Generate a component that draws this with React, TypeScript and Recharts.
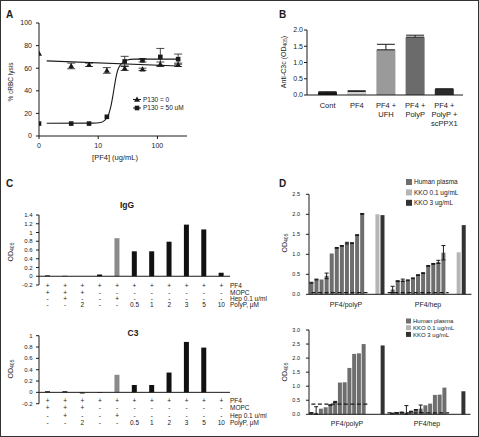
import React from 'react';
import {
  ComposedChart, Bar, Line, Scatter, XAxis, YAxis, ErrorBar, ReferenceLine, Cell,
} from 'recharts';

const FONT = '"Liberation Sans", Arial, Helvetica, sans-serif';
const INK = '#1a1a1a';

// A: % cRBC lysis vs [PF4]
const pf4Dose = [1, 3.5, 7, 14, 28, 56, 112, 224];
const lysisP130Zero = [73, 62, 63, 58, 60, 59, 63.5, 63];
const lysisP130ZeroErr = [0, 2.5, 1.5, 2.5, 2, 1, 2, 1.5];
const lysisP130Fifty = [11, 11, 11, 17, 66, 67, 70, 68];
const lysisP130FiftyErr = [0, 0, 0, 0, 4.5, 1.5, 7.5, 4.5];
const fitZeroDose = [1.35, 224];
const fitZeroLysis = [66.5, 62];
const fitFiftyDose = [1.35, 8, 11, 13, 15, 16.5, 18, 19.5, 21, 23, 26, 30, 40, 224];
const fitFiftyLysis = [11.3, 11.4, 12, 14, 19, 27, 38, 49, 57, 62, 65, 67, 68, 68];

// B: anti-C3c
const bLabels = ['Cont', 'PF4', 'PF4 +\nUFH', 'PF4 +\nPolyP', 'PF4 +\nPolyP +\nscPPX1'];
const bValues = [0.08, 0.11, 1.39, 1.78, 0.18];
const bErrUp = [0.02, 0.02, 0.17, 0.06, 0.01];
const bColors = ['#111111', '#cfcfcf', '#9a9a9a', '#6b6b6b', '#2b2b2b'];

// C: IgG and C3 ELISA
const cIgG = [0.02, 0.01, 0, 0.04, 0.87, 0.57, 0.57, 0.79, 1.18, 1.07, 0.08];
const cC3 = [0.02, 0.02, -0.02, -0.01, 0.31, 0.13, 0.13, 0.35, 0.89, 0.79, 0];
const rowPF4 = ['+', '+', '+', '+', '+', '+', '+', '+', '+', '+', '+'];
const rowMOPC = ['+', '+', '+', '-', '-', '-', '-', '-', '-', '-', '-'];
const rowHep = ['-', '+', '-', '-', '+', '-', '-', '-', '-', '-', '-'];
const rowPolyP = ['-', '-', '2', '-', '-', '0.5', '1', '2', '3', '5', '10'];
const rowNames = ['PF4', 'MOPC', 'Hep 0.1 u/ml', 'PolyP, \u03bcM'];
const igTicks = [-0.2, 0, 0.2, 0.4, 0.6, 0.8, 1, 1.2, 1.4];
const c3Ticks = [-0.2, 0, 0.2, 0.4, 0.6, 0.8, 1];

// D: human plasma vs KKO
const dLegend = ['Human plasma', 'KKO 0.1 ug/mL', 'KKO 3 ug/mL'];
const topPolyP = [0.29, 0.37, 0.37, 0.46, 1.02, 1.16, 1.21, 1.28, 1.28, 1.48, 2.01];
const topPolyPErr = [0.01, 0.01, 0, 0.07, 0, 0.01, 0.01, 0.02, 0.01, 0.01, 0.01];
const topHep = [0.12, 0.33, 0.35, 0.35, 0.4, 0.48, 0.53, 0.71, 0.76, 0.81, 1.04];
const topHepErr = [0.08, 0.01, 0.03, 0.01, 0.01, 0.01, 0.01, 0.01, 0.01, 0.04, 0.18];
const topKko01 = [2.0, 1.05];
const topKko3 = [1.98, 1.73];
const topCutoff = [0.04, 0.04];
const botPolyP = [0.05, 0.05, 0.2, 0.25, 0.33, 0.44, 1.13, 1.14, 1.65, 2.15, 2.17, 2.5];
const botPolyPErr = [0.01, 0.22, 0, 0, 0.01, 0.02, 0, 0, 0, 0, 0, 0];
const botHep = [0.03, 0.05, 0.07, 0.06, 0.1, 0.16, 0.2, 0.32, 0.38, 0.69, 0.7, 0.95];
const botHepErr = [0.01, 0.01, 0.01, 0.25, 0.01, 0.01, 0.13, 0, 0, 0, 0, 0];
const botKko01: (number | null)[] = [null, null];
const botKko3 = [2.45, 0.82];
const botCutoff = [0.36, 0.05];

const PLASMA = '#6e6e6e';
const KKO01 = '#b5b5b5';
const KKO3 = '#333333';
const dColors = [PLASMA, KKO01, KKO3];

const pts = (xs: number[], ys: number[], es?: number[]) =>
  xs.map((x, i) => ({ x, y: ys[i], e: es ? es[i] : 0 }));

const bData = bLabels.map((name, i) => ({ name, v: bValues[i], e: [0, bErrUp[i]] }));
const igData = cIgG.map((v, i) => ({ k: i, v }));
const c3Data = cC3.map((v, i) => ({ k: i, v }));

type Slot = { v: number | null; e?: number[]; fill?: string; dash?: number | null };
const group = (vals: number[], errs: number[], cut: number): Slot[] =>
  vals.map((v, i) => ({ v, e: errs[i] ? [Math.min(errs[i], v), errs[i]] : undefined, fill: PLASMA, dash: cut }));
const gap = (dash: number | null = null): Slot => ({ v: null, dash });
const kko = (v: number | null, fill: string): Slot => ({ v, fill, dash: null });

const topSlots = [
  ...group(topPolyP, topPolyPErr, topCutoff[0]), gap(topCutoff[0]), gap(),
  kko(topKko01[0], KKO01), kko(topKko3[0], KKO3), gap(topCutoff[1]),
  ...group(topHep, topHepErr, topCutoff[1]), gap(topCutoff[1]), gap(),
  kko(topKko01[1], KKO01), kko(topKko3[1], KKO3), gap(),
].map((s, k) => ({ k, ...s }));

const botSlots = [
  ...group(botPolyP, botPolyPErr, botCutoff[0]), gap(botCutoff[0]), gap(),
  kko(botKko01[0], KKO01), kko(botKko3[0], KKO3), gap(botCutoff[1]),
  ...group(botHep, botHepErr, botCutoff[1]), gap(botCutoff[1]), gap(),
  kko(botKko01[1], KKO01), kko(botKko3[1], KKO3), gap(),
].map((s, k) => ({ k, ...s }));

const oneDec = (v: number) => v.toFixed(1);
const shortNum = (v: number) => String(Math.round(v * 10) / 10);

const Tri = ({ cx, cy }: any) => (
  <polygon points={`${cx},${cy - 3} ${cx - 3},${cy + 2.2} ${cx + 3},${cy + 2.2}`} fill={INK} />
);
const Sq = ({ cx, cy }: any) => <rect x={cx - 2.3} y={cy - 2.3} width={4.6} height={4.6} fill={INK} />;

const BTick = ({ x, y, payload }: any) => {
  const lines = String(payload.value).split('\n');
  return (
    <text x={x} y={y} textAnchor="middle" fontSize={7.5} fill={INK}>
      {lines.map((l, i) => (
        <tspan key={i} x={x} dy={i === 0 ? 12.5 : 9}>{l}</tspan>
      ))}
    </text>
  );
};

const tableRows = [rowPF4, rowMOPC, rowHep, rowPolyP];
const tableTick = (first: number, step: number) => ({ x, y, payload }: any) => {
  const i = Number(payload.value);
  return (
    <g>
      {tableRows.map((row, r) => (
        <text key={r} x={x} y={y + first + r * step} textAnchor="middle" fontSize={6.5} fill={INK}>{row[i]}</text>
      ))}
      {i === rowPF4.length - 1 && rowNames.map((n, r) => (
        <text key={'n' + r} x={x + 8.7} y={y + first + r * step} fontSize={6.5} fill={INK}>{n}</text>
      ))}
    </g>
  );
};

const VLabel = ({ x, y, size, children }: any) => (
  <text transform={`translate(${x},${y}) rotate(-90)`} textAnchor="middle" fontSize={size} fill={INK}>{children}</text>
);

const at = (left: number, top: number, child: React.ReactNode) => (
  <div style={{ position: 'absolute', left, top }}>{child}</div>
);

const axisProps = { stroke: INK, tickLine: { stroke: INK }, interval: 0 as const };

const CPanel = ({ data, ticks, mt, h, first, step }: any) => (
  <ComposedChart width={285} height={h} data={data} margin={{ top: mt, right: 55, bottom: 0, left: 0 }}>
    <XAxis dataKey="k" type="category" interval={0} height={25} axisLine={false} tickLine={false}
      tickSize={0} tickMargin={0} tick={tableTick(first, step)} />
    <YAxis width={39} domain={[ticks[0], ticks[ticks.length - 1]]} ticks={ticks} tickFormatter={shortNum}
      tickSize={3} tickMargin={3.5} tick={{ fontSize: 6, fill: INK }} {...axisProps} />
    <ReferenceLine y={0} stroke={INK} strokeWidth={1} />
    <Bar dataKey="v" barSize={5} isAnimationActive={false}>
      {data.map((_: any, i: number) => <Cell key={i} fill={i === 4 ? '#8a8a8a' : '#111111'} />)}
    </Bar>
  </ComposedChart>
);

const DPanel = ({ data, h, mt, width, max, ticks }: any) => (
  <ComposedChart width={width} height={h} data={data} barCategoryGap={0.4} margin={{ top: mt, right: 2.5, bottom: 0, left: 0 }}>
    <XAxis dataKey="k" type="category" height={4} tick={false} tickLine={false} axisLine={{ stroke: INK }} />
    <YAxis width={59} domain={[0, max]} ticks={ticks} tickFormatter={oneDec}
      tickSize={3} tickMargin={6} tick={{ fontSize: 5.5, fill: INK }} {...axisProps} />
    <Bar dataKey="v" isAnimationActive={false}>
      {data.map((s: any, i: number) => <Cell key={i} fill={s.fill || 'none'} />)}
      <ErrorBar dataKey="e" width={2} stroke={INK} strokeWidth={1} />
    </Bar>
    <Line dataKey="dash" stroke={INK} strokeWidth={1.3} strokeDasharray="4 2.5" dot={false}
      activeDot={false} isAnimationActive={false} />
  </ComposedChart>
);

export default function App() {
  return (
    <div style={{ position: 'relative', width: 479, height: 437, background: '#fff', fontFamily: FONT, overflow: 'hidden' }}>
      <style>{'body{margin:0}'}</style>

      {at(0, 0,
        <ComposedChart width={200} height={150} margin={{ top: 23, right: 13, bottom: 0, left: 0 }}>
          <XAxis type="number" dataKey="x" scale="log" domain={[1, 316]} ticks={[1, 10, 100]} allowDataOverflow
            tickFormatter={(v: number) => (v === 1 ? '0' : String(v))} height={14}
            tickSize={3} tickMargin={4} tick={{ fontSize: 7, fill: INK }} {...axisProps} />
          <YAxis type="number" dataKey="y" width={39} domain={[0, 100]} ticks={[0, 20, 40, 60, 80, 100]}
            tickSize={3} tickMargin={4} tick={{ fontSize: 7, fill: INK }} {...axisProps} />
          <Line data={pts(fitZeroDose, fitZeroLysis)} dataKey="y" type="linear" stroke={INK} strokeWidth={1.1}
            dot={false} activeDot={false} isAnimationActive={false} />
          <Line data={pts(fitFiftyDose, fitFiftyLysis)} dataKey="y" type="monotone" stroke={INK} strokeWidth={1.1}
            dot={false} activeDot={false} isAnimationActive={false} />
          <Scatter data={pts(pf4Dose, lysisP130Zero, lysisP130ZeroErr)} shape={<Tri />} isAnimationActive={false}>
            <ErrorBar dataKey="e" direction="y" width={4} stroke={INK} strokeWidth={0.8} />
          </Scatter>
          <Scatter data={pts(pf4Dose, lysisP130Fifty, lysisP130FiftyErr)} shape={<Sq />} isAnimationActive={false}>
            <ErrorBar dataKey="e" direction="y" width={4} stroke={INK} strokeWidth={0.8} />
          </Scatter>
        </ComposedChart>
      )}

      {at(250, 0,
        <ComposedChart width={215} height={135} data={bData} margin={{ top: 30, right: 2, bottom: 0, left: 0 }}>
          <XAxis dataKey="name" type="category" interval={0} height={40} padding={{ left: 6, right: 4 }}
            tickLine={false} tickSize={0} tickMargin={0} tick={<BTick />} axisLine={{ stroke: INK }} />
          <YAxis width={57} domain={[0, 2]} ticks={[0, 0.5, 1, 1.5, 2]} tickFormatter={oneDec}
            tickSize={3} tickMargin={1} tick={{ fontSize: 7, fill: INK }} {...axisProps} />
          <Bar dataKey="v" barSize={19} isAnimationActive={false}>
            {bData.map((_, i) => <Cell key={i} fill={bColors[i]} />)}
            <ErrorBar dataKey="e" width={9} stroke={INK} strokeWidth={1} />
          </Bar>
        </ComposedChart>
      )}

      {at(0, 200, <CPanel data={igData} ticks={igTicks} h={110} mt={15} first={3.3} step={6.33} />)}
      {at(0, 320, <CPanel data={c3Data} ticks={c3Ticks} h={108.7} mt={15.7} first={-0.7} step={7.45} />)}

      {at(250, 185, <DPanel data={topSlots} width={224} h={113.3} mt={9.3} max={2.5}
        ticks={[0, 0.5, 1, 1.5, 2, 2.5]} />)}
      {at(250, 320, <DPanel data={botSlots} width={223} h={98.3} mt={10} max={3}
        ticks={[0, 0.5, 1, 1.5, 2, 2.5, 3]} />)}

      <svg width={479} height={437} style={{ position: 'absolute', left: 0, top: 0, pointerEvents: 'none', fontFamily: FONT }}>
        <g fontWeight="bold" fontSize={10} fill={INK}>
          <text x={6} y={18}>A</text>
          <text x={279} y={18}>B</text>
          <text x={6} y={187}>C</text>
          <text x={279} y={187}>D</text>
        </g>

        {/* A */}
        <text x={115} y={160} textAnchor="middle" fontSize={7.5} fill={INK}>[PF4] (ug/mL)</text>
        <VLabel x={12.5} y={82} size={6.5}>% cRBC lysis</VLabel>
        <line x1={133} x2={141} y1={99.5} y2={99.5} stroke={INK} strokeWidth={1} />
        <Tri cx={137} cy={99.5} />
        <text x={143} y={101.8} fontSize={6.5} fill={INK}>P130 = 0</text>
        <line x1={133} x2={141} y1={108} y2={108} stroke={INK} strokeWidth={1} />
        <Sq cx={137} cy={108} />
        <text x={143} y={110.3} fontSize={6.5} fill={INK}>P130 = 50 uM</text>

        {/* B */}
        <VLabel x={285.5} y={62} size={7}>
          Anti-C3c (OD<tspan fontSize={5} dy={1.5}>405</tspan><tspan dy={-1.5}>)</tspan>
        </VLabel>

        {/* C */}
        <text x={127} y={208} textAnchor="middle" fontSize={8.5} fontWeight="bold" fill={INK}>IgG</text>
        <text x={133} y={336} textAnchor="middle" fontSize={8.5} fontWeight="bold" fill={INK}>C3</text>
        <VLabel x={12.5} y={252} size={7}>OD<tspan fontSize={5} dy={1.5}>405</tspan></VLabel>
        <VLabel x={12.5} y={369} size={7}>OD<tspan fontSize={5} dy={1.5}>405</tspan></VLabel>

        {/* D */}
        <VLabel x={286.5} y={243} size={7}>OD<tspan fontSize={5} dy={1.5}>405</tspan></VLabel>
        <VLabel x={286.5} y={372} size={7}>OD<tspan fontSize={5} dy={1.5}>405</tspan></VLabel>
        {dLegend.map((lab, i) => (
          <g key={'t' + i}>
            <rect x={406} y={179 + i * 10.4} width={6} height={6} fill={dColors[i]} />
            <text x={414} y={184.4 + i * 10.4} fontSize={6.5} fill={INK}>{lab}</text>
          </g>
        ))}
        {dLegend.map((lab, i) => (
          <g key={'b' + i}>
            <rect x={406} y={318.5 + i * 6.7} width={5} height={5} fill={dColors[i]} />
            <text x={413} y={323.2 + i * 6.7} fontSize={6} fill={INK}>{lab}</text>
          </g>
        ))}
        <text x={346} y={306.8} textAnchor="middle" fontSize={7} fill={INK}>PF4/polyP</text>
        <text x={428} y={306.8} textAnchor="middle" fontSize={7} fill={INK}>PF4/hep</text>
        <text x={347} y={425.8} textAnchor="middle" fontSize={7} fill={INK}>PF4/polyP</text>
        <text x={427} y={425.8} textAnchor="middle" fontSize={7} fill={INK}>PF4/hep</text>

        <rect x={0.5} y={0.5} width={478} height={436} fill="none" stroke="#333" strokeWidth={1} />
      </svg>
    </div>
  );
}
